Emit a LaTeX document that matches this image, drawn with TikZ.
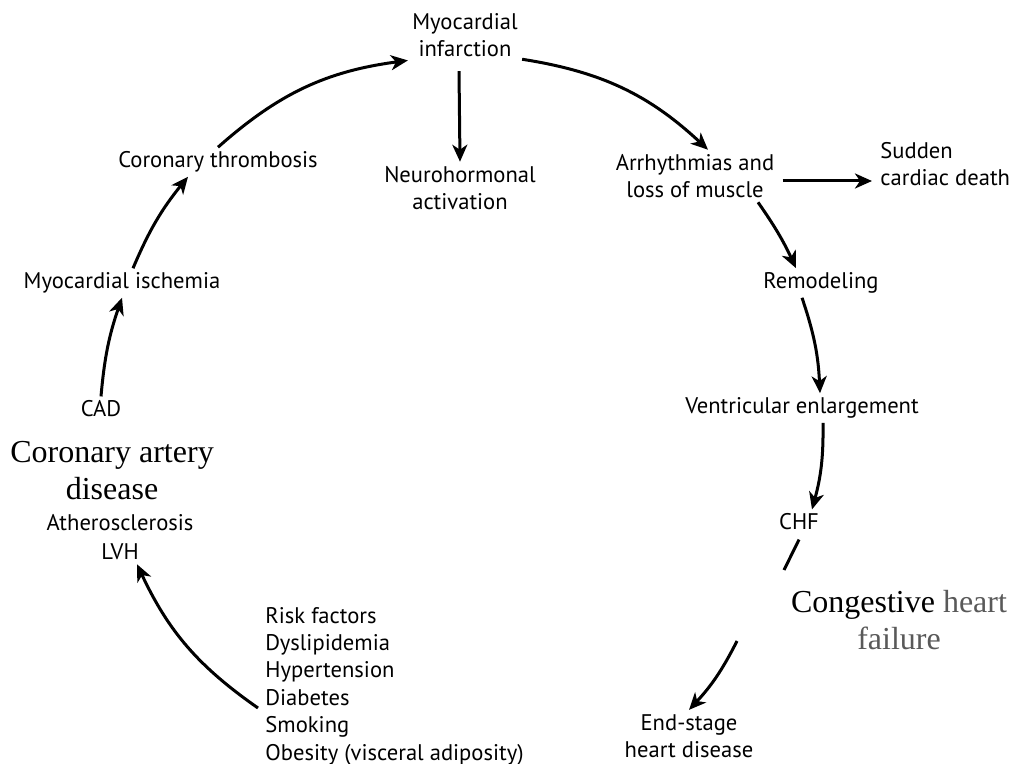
\documentclass[tikz,border=0pt]{standalone}
\usepackage{fontspec}
\setmainfont{PT Sans}
\newfontfamily\capfont{Liberation Serif}
\usetikzlibrary{positioning,calc,arrows.meta}

\definecolor{hfgray}{HTML}{595959}

\begin{document}
\begin{tikzpicture}[x=0.5pt, y=0.5pt,
        lbl/.style={font=\fontsize{11.3}{13.7}\selectfont, align=center, inner sep=2pt},
        big/.style={font=\capfont\fontsize{16}{18.5}\selectfont, align=center, inner sep=2pt},
        line/.style={draw, -{Stealth[length=8.5pt, width=7.5pt, inset=2.5pt]}, line width=1.5pt},
        plain/.style={draw, line width=1.5pt}]
        \useasboundingbox (0,0) rectangle (1010,-764);

        \node [lbl] (infarct) at (465,-35) {Myocardial\\infarction};
        \node [lbl] (thromb) at (218,-162) {Coronary thrombosis};
        \node [lbl] (neuro) at (460,-188) {Neurohormonal\\activation};
        \node [lbl] (arrhy) at (695,-176) {Arrhythmias and\\loss of muscle};
        \node [lbl, anchor=west, align=left] (sudden) at (876,-164) {Sudden\\cardiac death};
        \node [lbl] (ischem) at (122,-283) {Myocardial ischemia};
        \node [lbl] (remod) at (821,-283) {Remodeling};
        \node [lbl] (cad) at (101,-409) {CAD};
        \node [lbl] (ventr) at (802,-408) {Ventricular enlargement};
        \node [big] (cadlbl) at (112,-471) {Coronary artery\\disease};
        \node [lbl] (athero) at (120,-537) {Atherosclerosis\\[1pt]LVH};
        \node [lbl] (chf) at (799,-522) {CHF};
        \node [big] (chflbl) at (899,-620) {Congestive {\color{hfgray}heart}\\{\color{hfgray}failure}};
        \node [lbl, anchor=west, align=left] (risk) at (261,-686) {Risk factors\\Dyslipidemia\\Hypertension\\Diabetes\\Smoking\\Obesity (visceral adiposity)};
        \node [lbl] (endst) at (689,-736) {End-stage\\heart disease};

        \coordinate (gapa) at (784,-570);
        \coordinate (gapb) at (737,-641);

        % the cycle
        \path [line] (cad.north) to[bend left=7] (ischem.south);
        \path [line] ($(ischem.north)+(11,0)$) to[bend left=8] ($(thromb.south)+(-30,0)$);
        \path [line] (thromb.north) to[bend left=17] (infarct.204);
        \path [line] (infarct.-23) to[bend left=17] ($(arrhy.north)+(13,0)$);
        \path [line] ($(arrhy.south)+(63,0)$) to[bend left=5] ($(remod.north)+(-25,0)$);
        \path [line] ($(remod.south)+(-19,0)$) to[bend left=8] ($(ventr.north)+(18,0)$);
        \path [line] ($(ventr.south)+(21,0)$) to[bend left=8] ($(chf.north)+(13,0)$);
        \path [plain] ($(chf.south)+(0,-5)$) -- (gapa);
        \path [line] (gapb) to[bend left=8] (endst.north);
        \path [line] ($(risk.west)+(-3,-22)$) to[bend left=15] ($(athero.south)+(17,0)$);

        % side branches
        \path [line] ($(infarct.south)+(-6,-10)$) -- (neuro.north);
        \path [line] ($(arrhy.east)+(4,-5)$) -- ($(sudden.west |- arrhy.east)+(-4,-5)$);
    \end{tikzpicture}
\end{document}
